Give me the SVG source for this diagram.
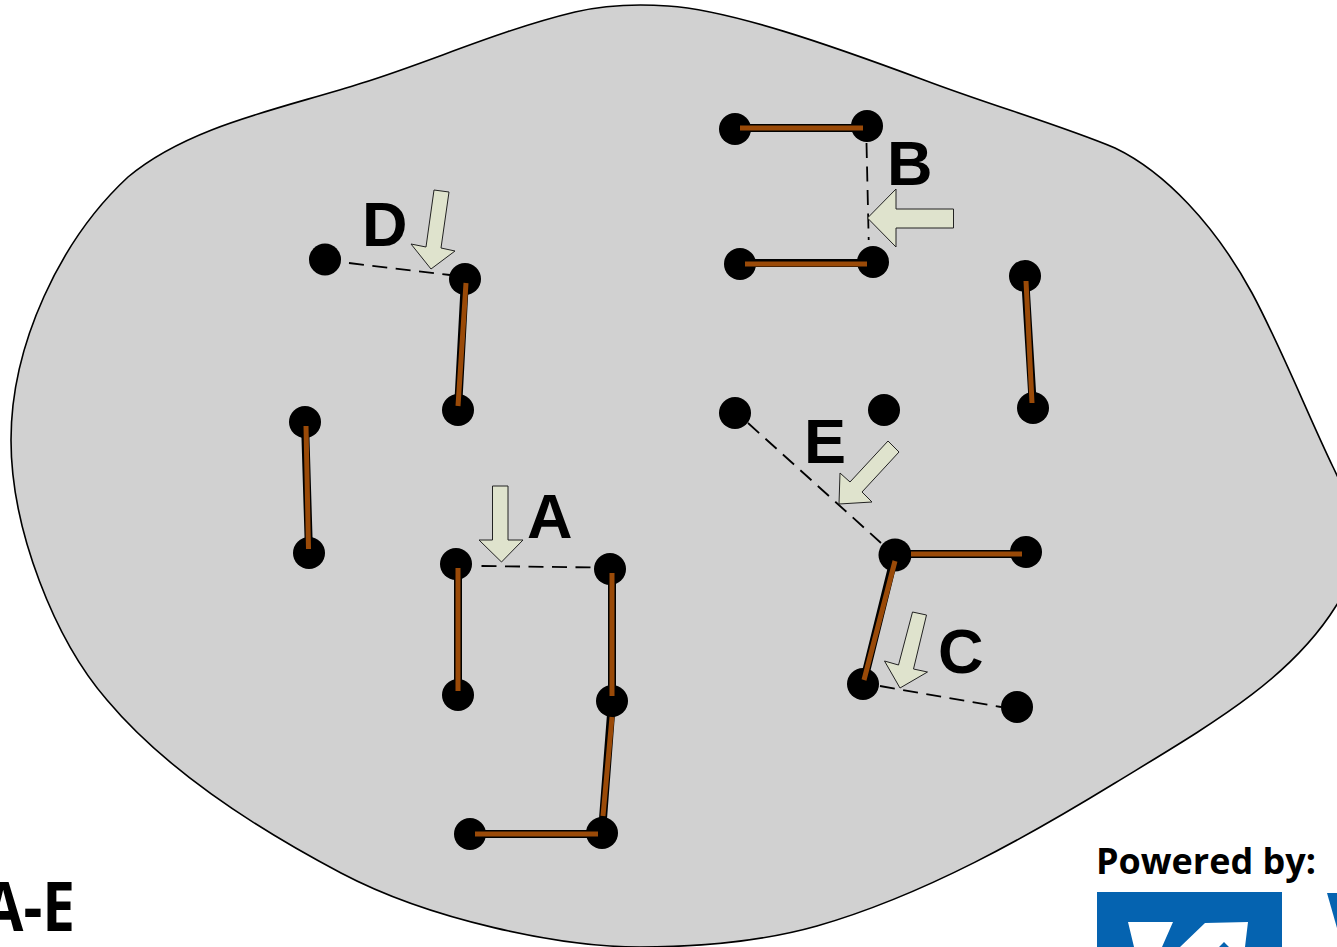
<svg xmlns="http://www.w3.org/2000/svg" width="1337" height="947" viewBox="0 0 1337 947">
<style>
.lbl{font-family:"Liberation Sans",Arial,sans-serif;font-weight:700;font-size:63px;fill:#000}
.cal{font-family:"Open Sans","Liberation Sans",sans-serif;font-weight:700;fill:#000}
.n{fill:#000}
.e{stroke:#000;stroke-width:8;fill:none}
.e2{stroke:#9a4a08;stroke-width:5;fill:none}
.d{stroke:#000;stroke-width:1.8;stroke-dasharray:15 8.5;fill:none}
.a{fill:#dfe3cd;stroke:#222;stroke-width:1}
</style>
<rect width="1337" height="947" fill="#fff"/>
<path id="region" d="M668 6C730 10 830 45 924 80C990 105 1060 125 1115 148C1165 172 1215 225 1252 293C1280 345 1308 415 1333 467L1350 503L1350 585L1336 606C1290 680 1210 725 1115 783C1030 835 925 895 817 926C760 942 700 947 640 947C560 947 430 920 341 873C265 833 170 775 107 700C55 640 11 530 11 440C11 345 60 240 128 177C190 125 285 108 362 83C430 62 500 30 575 12C605 5 640 4 668 6Z" fill="#d1d1d1" stroke="#000" stroke-width="1.6"/>
<g id="nodes">
<g id="n1"><circle class="n" cx="735" cy="129" r="16"/></g>
<g id="n2"><circle class="n" cx="867" cy="126" r="16"/></g>
<g id="n3"><circle class="n" cx="740" cy="264" r="16"/></g>
<g id="n4"><circle class="n" cx="873" cy="262" r="16"/></g>
<g id="n5"><circle class="n" cx="325" cy="259.500" r="16"/></g>
<g id="n6"><circle class="n" cx="465" cy="279" r="16"/></g>
<g id="n7"><circle class="n" cx="458" cy="410" r="16"/></g>
<g id="n8"><circle class="n" cx="1025" cy="276" r="16"/></g>
<g id="n9"><circle class="n" cx="1033" cy="408" r="16"/></g>
<g id="n10"><circle class="n" cx="735" cy="413" r="16"/></g>
<g id="n11"><circle class="n" cx="884" cy="410" r="16"/></g>
<g id="n12"><circle class="n" cx="305" cy="422" r="16"/></g>
<g id="n13"><circle class="n" cx="309" cy="553" r="16"/></g>
<g id="n14"><circle class="n" cx="456" cy="564" r="16"/></g>
<g id="n15"><circle class="n" cx="458" cy="695" r="16"/></g>
<g id="n16"><circle class="n" cx="610" cy="569" r="16"/></g>
<g id="n17"><circle class="n" cx="612" cy="701" r="16"/></g>
<g id="n18"><circle class="n" cx="470" cy="834" r="16"/></g>
<g id="n19"><circle class="n" cx="602" cy="833" r="16"/></g>
<g id="n20"><circle class="n" cx="895" cy="555" r="16.500"/></g>
<g id="n21"><circle class="n" cx="1026" cy="552" r="16"/></g>
<g id="n22"><circle class="n" cx="863" cy="684" r="16"/></g>
<g id="n23"><circle class="n" cx="1017" cy="707" r="16"/></g>
</g>
<g id="connectors">
<path class="d" d="M349 263L450 275"/>
<path class="d" d="M866.500 143L868.700 240"/>
<path class="d" d="M481.500 566L594 567.500"/>
<path class="d" d="M748 423L881 543"/>
<path class="d" d="M880 686L1001 707"/>
<path class="e" d="M736 128H866M740 263H873M465 279L458 409M1025 276L1033 408M305 422L309 553M458 564V695M612 569V701M612 701L602 832M470 834H602M895 554H1026M895 555L863 684"/>
<path class="e2" d="M740 128H863M745 264H867M466 283L458 406M1026 281L1032 403M306 426L308.500 549M458 568V691M612 573V696M612 717L603 816M475 834H598M911 554H1022M895 561L864 680"/>
</g>
<g id="arrows">
<path class="a" d="M867.500 218L896 189V209H953.500V228H896V247Z"/>
<path class="a" d="M501.500 562L479 540H492.500V486H508V540H523Z"/>
<path class="a" d="M431 269L411 244L426 247L434 190L449 192L441 248L455 251Z"/>
<path class="a" d="M888 441L899 452L862 492L872 502L839 504L840 473L850 482Z"/>
<path class="a" d="M900 688L884.500 661L898.500 665L912.500 612L926.500 615L913.500 669L927.500 672Z"/>
</g>
<text class="lbl" x="887" y="185">B</text>
<text class="lbl" x="362" y="245.500">D</text>
<text class="lbl" x="527" y="538">A</text>
<text class="lbl" x="804" y="463">E</text>
<text class="lbl" x="938" y="673">C</text>
<text class="cal" x="-17" y="931" font-size="68" textLength="92" lengthAdjust="spacingAndGlyphs">A-E</text>
<text class="cal" x="1096" y="874" font-size="35" textLength="220" lengthAdjust="spacingAndGlyphs">Powered by:</text>
<g id="logo">
<rect x="1097" y="892" width="185" height="55" fill="#0563b0"/>
<path d="M1128 922H1173L1162 947H1134Z M1180 947L1205 923L1248 922L1245 947H1229L1224 942L1219 947Z" fill="#fff"/>
<path d="M1327 893H1337V928Z" fill="#0563b0"/>
</g>
</svg>
